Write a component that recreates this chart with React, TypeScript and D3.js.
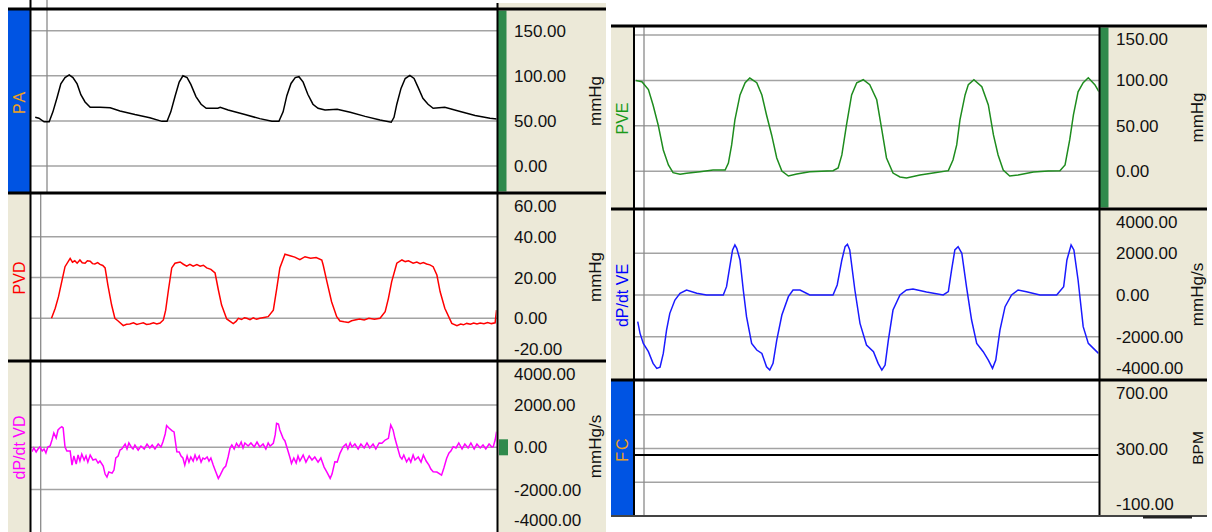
import * as d3 from 'd3';

type Pt = [number, number];

// time in ms across the visible window, value in the channel's own unit
const paTrace: Pt[] = [
  [9, 54], [17, 53], [28, 49], [39, 49], [47, 60], [56, 76], [64, 91], [73, 98], [82, 101], [90, 98],
  [99, 91], [107, 79], [116, 71], [127, 65], [148, 65], [170, 64.5], [191, 61], [223, 57], [255, 53.5],
  [281, 49.5], [292, 49.5], [300, 60], [309, 77], [318, 93], [326, 100], [335, 98], [343, 90.5],
  [354, 77], [365, 68.5], [376, 64], [401, 64], [406, 65], [423, 62], [459, 57], [491, 52.5],
  [517, 49.5], [532, 49.5], [541, 60], [549, 78], [558, 91.5], [567, 98], [575, 99], [584, 93],
  [594, 79.5], [605, 68.5], [616, 64], [631, 62], [657, 63], [685, 59.5], [717, 55], [749, 51],
  [773, 48.5], [779, 54], [785, 68.5], [794, 86], [803, 97], [813, 100.5], [822, 97], [830, 88],
  [841, 75], [852, 68.5], [863, 64], [888, 65], [921, 60.5], [953, 56], [985, 53], [1000, 52],
];

const pvdTrace: Pt[] = [
  [44, 0], [52, 4.9], [59, 10.6], [66, 18], [73, 25.3], [84, 29.4], [89, 27.5], [94, 28.2], [99, 27],
  [105, 28.6], [110, 27.2], [116, 27], [121, 28.2], [127, 28], [132, 26.8], [137, 26.6], [143, 27.3],
  [148, 26.4], [154, 25.9], [159, 24.7], [165, 16.3], [173, 6.5], [180, 0], [187, -1.3], [198, -3.6],
  [205, -2.9], [212, -2.8], [220, -2.2], [227, -3], [234, -2.6], [241, -2.2], [248, -3], [255, -2.8],
  [263, -2.2], [270, -2.8], [277, -2.3], [284, -0.8], [289, 4], [295, 14], [302, 24.7], [309, 27],
  [320, 27.6], [327, 26.5], [334, 25.6], [341, 26.5], [348, 25.6], [356, 26.3], [363, 25.5], [370, 26],
  [377, 24.7], [386, 24], [395, 22.2], [402, 14], [409, 6.5], [420, -0.3], [434, -2.6], [440, -1.5],
  [445, 0], [452, -0.6], [458, 0.3], [463, 0], [470, -0.7], [477, 0.2], [484, -0.5], [491, 0],
  [500, 0.4], [509, 0.8], [520, 4], [527, 14], [534, 24.7], [545, 31.4], [556, 30.7], [566, 30],
  [577, 28.7], [588, 30.2], [600, 29.4], [612, 29.8], [624, 28.6], [627, 26.1], [635, 18], [645, 8.1],
  [656, 0.8], [663, -1.3], [672, -1.7], [681, -2], [688, -1.2], [695, -0.8], [705, -0.3], [715, -0.8],
  [725, 0], [737, -0.5], [749, 0], [760, 3.2], [767, 9.8], [774, 18], [785, 27], [796, 28.6],
  [803, 27.8], [810, 28.2], [820, 27], [828, 27.6], [835, 26.8], [842, 27.3], [849, 26.6], [856, 26.2],
  [863, 25.3], [871, 21.2], [878, 13], [888, 4.9], [903, -2.5], [914, -3.6], [922, -2.8], [928, -3.2],
  [935, -2.5], [943, -2.9], [950, -2.3], [957, -2.8], [964, -2.3], [972, -2.7], [980, -2.1],
  [988, -2.6], [996, -2.2], [999, 4],
];

const dpdtVdTrace: Pt[] = [
  [2, -210], [6, -30], [11, -220], [15, -80], [19, 15], [24, -175], [28, -80], [32, -270], [36, 15],
  [41, 60], [45, 345], [49, 680], [54, 440], [58, 820], [62, 915], [66, 975], [69, 915], [73, 15],
  [77, -175], [84, -175], [88, -840], [92, -410], [97, -790], [101, -365], [105, -650], [109, -320],
  [114, -600], [118, -410], [122, -700], [127, -365], [133, -600], [139, -555], [144, -745], [148, -650],
  [155, -885], [159, -1265], [163, -1410], [167, -1170], [174, -1220], [178, -1075], [182, -505],
  [187, -410], [191, -130], [195, -80], [202, 155], [206, -80], [210, 205], [215, 15], [219, -80],
  [223, 110], [230, -130], [236, 60], [243, -80], [249, 155], [255, -30], [260, 110], [266, -80],
  [273, 155], [279, 15], [283, 250], [288, 630], [291, 1025], [296, 915], [303, 775], [307, 725],
  [313, -210], [318, -220], [322, -410], [326, -505], [330, -840], [335, -410], [339, -700], [343, -460],
  [348, -650], [352, -365], [356, -600], [361, -410], [365, -700], [369, -505], [373, -555], [378, -460],
  [382, -650], [386, -505], [391, -840], [395, -1075], [402, -1470], [406, -1315], [413, -1000],
  [418, -885], [423, -460], [427, -50], [431, 110], [436, -80], [441, 190], [446, 15], [451, 250],
  [455, -30], [459, 205], [466, 60], [472, 205], [479, 15], [485, 250], [491, 15], [498, 155],
  [504, -80], [509, 205], [513, 60], [520, 190], [524, 585], [527, 1140], [531, 1105], [534, 820],
  [541, 425], [545, 300], [552, -210], [556, -505], [559, -760], [564, -505], [569, -745], [573, -410],
  [577, -650], [584, -365], [590, -700], [597, -410], [603, -600], [609, -460], [616, -700], [622, -505],
  [629, -935], [635, -1170], [642, -1470], [646, -1265], [652, -685], [657, -700], [663, -285],
  [670, 30], [676, 155], [680, -80], [685, 205], [689, 15], [695, 155], [702, -80], [708, 155],
  [715, -30], [721, 205], [727, -30], [734, 155], [740, -80], [747, 205], [753, 190], [760, 345],
  [767, 425], [772, 1055], [777, 820], [781, 425], [785, 110], [792, -445], [796, -555], [800, -365],
  [806, -685], [811, -505], [815, -700], [820, -365], [824, -600], [831, -460], [837, -700], [842, -365],
  [848, -650], [854, -840], [858, -1030], [863, -1155], [871, -1170], [881, -1315], [886, -980],
  [892, -520], [897, -270], [901, -175], [906, 30], [912, -30], [918, 205], [925, -80], [931, 155],
  [938, -30], [944, 205], [951, -80], [957, 155], [964, -30], [970, 110], [976, -80], [983, 155],
  [989, 15], [992, 30], [996, 345], [999, 740],
];

const pveTrace: Pt[] = [
  [4, 100], [17, 98.5], [31, 90], [41, 73], [52, 51], [63, 23.5], [74, 7], [84, -1.5], [99, -3.3],
  [113, -2.2], [142, -0.4], [170, 1.4], [196, 1.4], [203, 9], [210, 29], [217, 56.6], [228, 84],
  [239, 97.5], [249, 102.6], [264, 97.5], [275, 84], [285, 62], [296, 40], [307, 14.7], [318, 0.3],
  [332, -5.2], [350, -3], [378, -0.4], [428, 0.7], [439, 3.6], [447, 18], [457, 51], [468, 84],
  [479, 97.5], [493, 100.8], [507, 95.4], [522, 78.7], [533, 45.6], [543, 14.7], [557, -1.9],
  [572, -6.3], [586, -7.4], [615, -4], [643, -1.9], [676, 0.7], [686, 12.5], [694, 29], [701, 56.6],
  [712, 84], [719, 95.4], [731, 100.8], [748, 93], [762, 73], [773, 40], [783, 18], [794, 1.4],
  [808, -5.2], [826, -4], [859, -0.8], [891, 0.3], [916, 0.7], [927, 7], [937, 34.5], [945, 62],
  [955, 87.5], [966, 97.5], [977, 103], [991, 95.4], [1000, 87.5],
];

const dpdtVeTrace: Pt[] = [
  [8, -1280], [13, -1840], [20, -2320], [31, -2720], [41, -3280], [49, -3520], [56, -3460], [63, -2800],
  [70, -1680], [77, -880], [88, -240], [99, 80], [113, 240], [135, 80], [156, 0], [192, 0], [199, 400],
  [206, 1360], [212, 2160], [217, 2400], [221, 2240], [228, 1680], [235, 240], [242, -1040],
  [253, -2320], [264, -2640], [275, -2800], [285, -3440], [292, -3600], [299, -3280], [307, -2160],
  [318, -960], [332, -80], [342, 240], [357, 240], [378, 0], [428, 0], [437, 480], [447, 1680],
  [454, 2320], [459, 2430], [464, 2160], [475, 240], [486, -1360], [500, -2400], [515, -2720],
  [525, -3280], [533, -3600], [540, -3360], [547, -2160], [557, -720], [572, 0], [586, 240], [600, 290],
  [629, 140], [665, 0], [676, 160], [683, 1200], [690, 2160], [697, 2320], [705, 2000], [715, 400],
  [726, -1200], [737, -2320], [751, -2720], [762, -3120], [771, -3520], [778, -3120], [787, -1680],
  [798, -560], [812, 0], [826, 240], [844, 160], [873, 0], [909, 0], [924, 400], [931, 1680],
  [940, 2400], [946, 2160], [955, 720], [966, -1520], [977, -2320], [988, -2560], [999, -2800],
];

const fcTrace: Pt[] = [[0, 262], [1000, 262]];

const paTicks = [150, 100, 50, 0];
const pvdTicks = [60, 40, 20, 0, -20];
const dpdtTicks = [4000, 2000, 0, -2000, -4000];
const pveTicks = [150, 100, 50, 0];
const fcTicks = [700, 300, -100];

const paGrid = [150, 100, 50, 0];
const pvdGrid = [40, 20, 0];
const dpdtGrid = [2000, 0, -2000];
const pveGrid = [150, 100, 50, 0];
const fcGrid = [500, 300, 100];

const timeDomain = [0, 1000];

const FONT = '"Liberation Sans", Arial, sans-serif';
const BEIGE = '#ece9d8';
const BLUE = '#0054e3';
const ORANGE = '#f0a020';
const GREEN_BAR = '#2f8a4c';
const GRID = '#a3a3a3';

export default function App() {
  const left = {
    stripX0: 8, stripX1: 30.5, plotX0: 31, plotX1: 497, textX: 514, unitX: 595,
    x: d3.scaleLinear().domain(timeDomain).range([31, 497]),
  };
  const right = {
    stripX0: 611, stripX1: 634, plotX0: 634, plotX1: 1099, textX: 1116, unitX: 1197,
    x: d3.scaleLinear().domain(timeDomain).range([634, 1099]),
  };

  const panels = [
    { id: 'pa', col: left, top: 9, bottom: 193, label: 'PA', labelColor: ORANGE, spacing: 2, strip: BLUE,
      unit: 'mmHg', y: d3.scaleLinear().domain([0, 150]).range([166, 30.7]), ticks: paTicks, grid: paGrid,
      trace: paTrace, color: '#000', width: 1.5, cursor: 47, bar: true },
    { id: 'pvd', col: left, top: 193, bottom: 361, label: 'PVD', labelColor: '#ff0000', spacing: 0, strip: BEIGE,
      unit: 'mmHg', y: d3.scaleLinear().domain([0, 40]).range([318.3, 236.7]), ticks: pvdTicks, grid: pvdGrid,
      trace: pvdTrace, color: '#ff0000', width: 1.5, cursor: 40.7, bar: false },
    { id: 'dvd', col: left, top: 361, bottom: 532, label: 'dP/dt VD', labelColor: '#ff00ff', spacing: 0, strip: BEIGE,
      unit: 'mmHg/s', y: d3.scaleLinear().domain([0, 2000]).range([447.3, 405]), ticks: dpdtTicks, grid: dpdtGrid,
      trace: dpdtVdTrace, color: '#ff00ff', width: 1.5, cursor: 40.7, bar: false, marker: 0 },
    { id: 'pve', col: right, top: 26, bottom: 209, label: 'PVE', labelColor: '#1a9a1a', spacing: 0, strip: BEIGE,
      unit: 'mmHg', y: d3.scaleLinear().domain([0, 150]).range([171.3, 35]), ticks: pveTicks, grid: pveGrid,
      trace: pveTrace, color: '#1e8c1e', width: 1.5, cursor: 644, bar: true },
    { id: 'dve', col: right, top: 209, bottom: 380, label: 'dP/dt VE', labelColor: '#0000ff', spacing: 0, strip: BEIGE,
      unit: 'mmHg/s', y: d3.scaleLinear().domain([0, 2000]).range([295, 253.3]), ticks: dpdtTicks, grid: dpdtGrid,
      trace: dpdtVeTrace, color: '#1a1aff', width: 1.5, cursor: 644, bar: false },
    { id: 'fc', col: right, top: 380, bottom: 516, label: 'FC', labelColor: ORANGE, spacing: 2, strip: BLUE,
      unit: 'BPM', y: d3.scaleLinear().domain([-100, 700]).range([516, 381]), ticks: fcTicks, grid: fcGrid,
      trace: fcTrace, color: '#000', width: 2, cursor: 644, bar: false },
  ];

  return (
    <svg width={1212} height={532} fontFamily={FONT}
      style={{ position: 'absolute', left: 0, top: 0, background: '#fff' }}>
      <defs>
        {panels.map(p => (
          <clipPath key={p.id} id={`clip-${p.id}`}>
            <rect x={p.col.plotX0 + 1} y={p.top + 1.5} width={p.col.plotX1 - p.col.plotX0 - 1.5}
              height={p.bottom - p.top - 3} />
          </clipPath>
        ))}
      </defs>

      {/* axis side panels */}
      <rect x={497} y={3} width={109} height={529} fill={BEIGE} />
      <rect x={1099} y={26} width={108} height={490} fill={BEIGE} />

      {panels.map(p => {
        const line = d3.line<Pt>().x(d => p.col.x(d[0])).y(d => p.y(d[1]));
        const mid = (p.top + p.bottom) / 2 + 1;
        const stripMid = (p.col.stripX0 + p.col.stripX1) / 2;
        return (
          <g key={p.id}>
            <rect x={p.col.stripX0} y={p.top} width={p.col.stripX1 - p.col.stripX0} height={p.bottom - p.top} fill={p.strip} />
            <rect x={p.col.plotX0} y={p.top} width={p.col.plotX1 - p.col.plotX0} height={p.bottom - p.top} fill="#fff" />
            {p.grid.map(g => (
              <line key={g} x1={p.col.plotX0} x2={p.col.plotX1} y1={p.y(g)} y2={p.y(g)} stroke={GRID} strokeWidth={1.5} />
            ))}
            <line x1={p.cursor} x2={p.cursor} y1={p.id === 'pa' ? 0 : p.top} y2={p.bottom} stroke="#8a8a8a" strokeWidth={1.3} />
            <path d={line(p.trace) ?? ''} fill="none" stroke={p.color} strokeWidth={p.width}
              clipPath={`url(#clip-${p.id})`} />
            {p.bar && (
              <rect x={p.col.plotX1 + 1} y={p.top + 1.5} width={8.5} height={p.bottom - p.top - 3} fill={GREEN_BAR} />
            )}
            {p.marker !== undefined && (
              <rect x={p.col.plotX1 + 2} y={p.y(p.marker) - 8} width={9} height={16} fill={GREEN_BAR} />
            )}
            <text transform={`translate(${stripMid},${mid}) rotate(-90)`} textAnchor="middle" dominantBaseline="central"
              fontSize={16} fill={p.labelColor} letterSpacing={p.spacing}>{p.label}</text>
            {p.ticks.map(t => {
              const ty = Math.min(Math.max(p.y(t), p.top + 13), p.bottom - 12);
              return (
                <text key={t} x={p.col.textX} y={ty + 6} fontSize={17} fill="#111">{t.toFixed(2)}</text>
              );
            })}
            <text transform={`translate(${p.col.unitX},${(p.top + p.bottom) / 2}) rotate(-90)`} textAnchor="middle"
              dominantBaseline="central" fontSize={p.unit === 'BPM' ? 15.5 : 17} fill="#111">{p.unit}</text>
          </g>
        );
      })}

      {/* frame lines */}
      <line x1={30.5} x2={30.5} y1={0} y2={532} stroke="#000" strokeWidth={2} />
      <line x1={497.5} x2={497.5} y1={3} y2={532} stroke="#000" strokeWidth={2} />
      <line x1={634} x2={634} y1={26} y2={516} stroke="#000" strokeWidth={2} />
      <line x1={1099.5} x2={1099.5} y1={26} y2={516} stroke="#000" strokeWidth={2} />
      {[9, 193, 361].map(y => (
        <line key={y} x1={8} x2={606} y1={y} y2={y} stroke="#000" strokeWidth={3} />
      ))}
      {[26, 209, 380].map(y => (
        <line key={y} x1={611} x2={1207} y1={y} y2={y} stroke="#000" strokeWidth={3} />
      ))}
      <line x1={611} x2={1207} y1={516} y2={516} stroke="#444" strokeWidth={2} />
      <rect x={1143} y={516} width={49} height={2.5} fill="#222" />
    </svg>
  );
}
